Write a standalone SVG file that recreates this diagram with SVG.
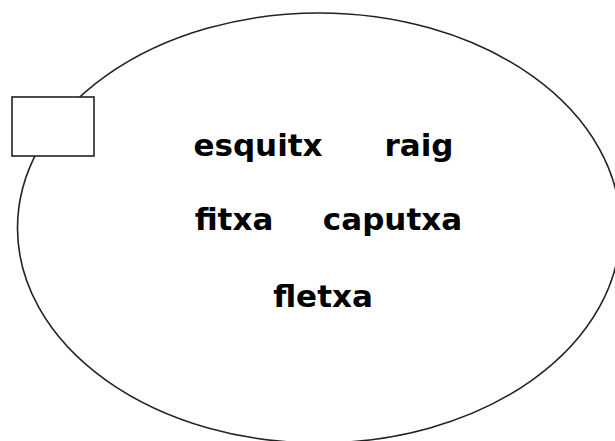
<svg xmlns="http://www.w3.org/2000/svg" width="615" height="441" viewBox="0 0 615 441">
<style>
.shape{fill:#fff;stroke:#222;stroke-width:1.6}
.lbl{font-family:"DejaVu Sans","Verdana",sans-serif;font-weight:bold;font-size:31px;fill:#000;text-anchor:middle}
</style>
<rect width="615" height="441" fill="#fff"/>
<g id="ellipse"><ellipse class="shape" cx="319" cy="228" rx="301.5" ry="215"/></g>
<g id="box"><rect class="shape" x="12" y="97" width="82" height="59"/></g>
<g id="connectors"></g>
<g id="n-esquitx"><text class="lbl" x="258" y="156">esquitx</text></g>
<g id="n-raig"><text class="lbl" x="419" y="156">raig</text></g>
<g id="n-fitxa"><text class="lbl" x="234" y="230">fitxa</text></g>
<g id="n-caputxa"><text class="lbl" x="392.5" y="230">caputxa</text></g>
<g id="n-fletxa"><text class="lbl" x="323" y="307">fletxa</text></g>
</svg>
